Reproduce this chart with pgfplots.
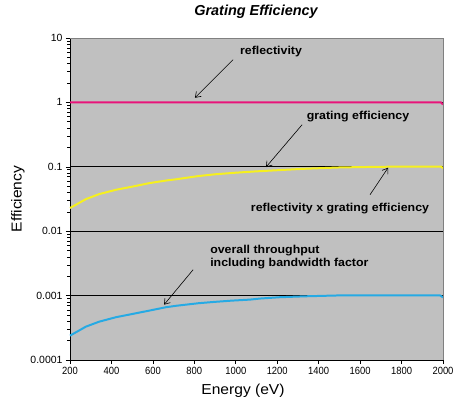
\documentclass[border=0pt]{standalone}
\usepackage{fontspec}
\setmainfont{Liberation Sans}
\newfontfamily\narrowsans[FakeStretch=0.9]{Liberation Sans}
\newfontfamily\widesans[FakeStretch=1.08]{Liberation Sans}
\usepackage{pgfplots}
\pgfplotsset{compat=1.18}
\usetikzlibrary{arrows.meta}
\definecolor{bg}{RGB}{192,192,192}
\definecolor{magentaline}{RGB}{232,20,122}
\definecolor{yellowline}{RGB}{246,240,30}
\definecolor{blueline}{RGB}{38,170,228}
\definecolor{bordergray}{RGB}{128,128,128}
\begin{document}
\begin{tikzpicture}
\useasboundingbox (-70bp,-43bp) rectangle (386bp,360bp);
\begin{axis}[
  at={(0,0)}, anchor=south west,
  scale only axis, width=373bp, height=322bp,
  xmin=200, xmax=2000, ymode=log, ymin=1e-4, ymax=10,
  xtick={200,400,...,2000},
  ytick={1e-4,1e-3,1e-2,1e-1,1,10},
  yticklabels={0.0001,0.001,0.01,0.1,1,10},
  /pgf/number format/assume math mode=true,
  /pgf/number format/1000 sep={},
  axis background/.style={fill=bg},
  axis x line*=bottom, axis y line*=left,
  axis line style={-, black, line width=0.8pt},
  tick align=outside, major tick length=4bp, minor tick length=2.5bp,
  tick style={black, line width=0.6pt},
  ymajorgrids, grid style={black, line width=0.8pt},
  xticklabel style={font=\narrowsans\fontsize{10.5}{12}\selectfont},
  yticklabel style={font=\fontsize{10.5}{12}\selectfont},
  clip=false,
]
\addplot[magentaline, line width=2pt] coordinates {
 (200,1) (600,1) (1000,1) (1400,1) (1800,1) (1990,1) (2000,0.93)};
\addplot[yellowline, line width=2pt] coordinates {
 (200,0.0229) (277,0.0315) (341,0.0377) (422,0.0440) (503,0.0494) (583,0.0558)
 (663,0.0612) (712,0.0640) (819,0.0718) (900,0.0765) (1000,0.0810)
 (1100,0.0850) (1213,0.0889) (1325,0.0930) (1400,0.0950) (1493,0.0975)
 (1600,0.0990) (1700,0.1) (1841,0.101) (1990,0.101) (2000,0.095)};
\addplot[blueline, line width=2pt] coordinates {
 (200,0.000239) (277,0.000330) (341,0.000394) (422,0.000462) (503,0.000520)
 (583,0.000585) (663,0.000660) (712,0.000695) (819,0.000761)
 (900,0.000800) (980,0.000835) (1069,0.000867) (1117,0.000900) (1213,0.000944)
 (1334,0.000975) (1517,0.00101) (1985,0.00101) (2000,0.00094)};
\draw[bordergray, line width=0.8pt] (rel axis cs:0,1) -- (rel axis cs:1,1) -- (rel axis cs:1,0);
% annotations
\node[font=\widesans\bfseries\fontsize{11.5}{13}\selectfont] at (axis cs:1170,6.12) {reflectivity};
\draw[-{Straight Barb[length=5bp,width=7bp]}, line width=0.6pt] (axis cs:987,4.6) -- (axis cs:803,1.18);
\node[font=\widesans\bfseries\fontsize{11.5}{13}\selectfont] at (axis cs:1590,0.60) {grating efficiency};
\draw[-{Straight Barb[length=5bp,width=7bp]}, line width=0.6pt] (axis cs:1320,0.45) -- (axis cs:1146,0.099);
\node[font=\widesans\bfseries\fontsize{11.5}{13}\selectfont] at (axis cs:1503,0.0223) {reflectivity x grating efficiency};
\draw[-{Straight Barb[length=5bp,width=7bp]}, line width=0.6pt] (axis cs:1648,0.0369) -- (axis cs:1735,0.0968);
\node[font=\widesans\bfseries\fontsize{11.5}{13}\selectfont, anchor=west, align=left, inner sep=0pt] at (axis cs:876,0.00402) {overall throughput\\including bandwidth factor};
\draw[-{Straight Barb[length=5bp,width=7bp]}, line width=0.6pt] (axis cs:794,0.00252) -- (axis cs:654,0.000723);
\end{axis}
\node[font=\bfseries\itshape\fontsize{14.5}{16}\selectfont] at (186bp,348bp) {Grating Efficiency};
\node[rotate=90, font=\widesans\fontsize{14.5}{16}\selectfont] at (-52bp,161bp) {Efficiency};
\node[font=\widesans\fontsize{14.5}{16}\selectfont] at (173bp,-31bp) {Energy (eV)};
\end{tikzpicture}
\end{document}
